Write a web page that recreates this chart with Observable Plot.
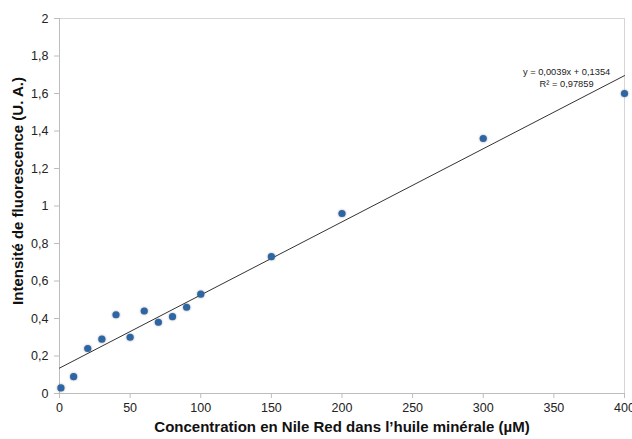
<!DOCTYPE html>
<html><head><meta charset="utf-8">
<script src="https://cdn.jsdelivr.net/npm/d3@7"></script>
<script src="https://cdn.jsdelivr.net/npm/@observablehq/plot@0.6"></script>
<style>
body{margin:0;background:#fff;font-family:"Liberation Sans",Arial,sans-serif}
svg{overflow:visible}
.pts circle{filter:drop-shadow(0.6px 0.8px 0.8px rgba(0,0,0,0.35))}
</style>
</head><body><div id="chart"></div>
<script>
const concentrations = [1, 10, 20, 30, 40, 50, 60, 70, 80, 90, 100, 150, 200, 300, 400];
const intensities = [0.03, 0.09, 0.24, 0.29, 0.42, 0.30, 0.44, 0.38, 0.41, 0.46, 0.53, 0.73, 0.96, 1.36, 1.60];
const xTicks = [0, 50, 100, 150, 200, 250, 300, 350, 400];
const yTicks = [0, 0.2, 0.4, 0.6, 0.8, 1, 1.2, 1.4, 1.6, 1.8, 2];
const slope = 0.0039, intercept = 0.1354;
const trendX = [0, 400];
const equationLines = ["y = 0,0039x + 0,1354", "R² = 0,97859"];
const equationPos = {x: 359, y: [1.716, 1.648]};
const xTitle = "Concentration en Nile Red dans l\u2019huile minérale (\u00b5M)";
const yTitle = "Intensité de fluorescence (U. A.)";

const points = concentrations.map((c, i) => ({c, v: intensities[i]}));
const trend = trendX.map(x => ({x, y: slope * x + intercept}));
const eq = equationLines.map((t, i) => ({t, x: equationPos.x, y: equationPos.y[i]}));
const fmt = d => String(d).replace(".", ",");

const chart = Plot.plot({
  width: 632, height: 439,
  marginLeft: 59, marginRight: 8, marginTop: 18, marginBottom: 46,
  style: {fontFamily: '"Liberation Sans", Arial, sans-serif', fontSize: "12.5px", color: "#222", background: "#fff"},
  x: {domain: [0, 400]},
  y: {domain: [0, 2]},
  marks: [
    Plot.frame({stroke: "#d6d6d6"}),
    Plot.axisX({ticks: xTicks, tickFormat: fmt, tickSize: 5, tickPadding: 5, stroke: "#bdbdbd", fill: "#222", fontSize: 12.5, label: null}),
    Plot.axisY({ticks: yTicks, tickFormat: fmt, tickSize: 5, tickPadding: 6, stroke: "#bdbdbd", fill: "#222", fontSize: 12.5, label: null}),
    Plot.ruleX([0], {stroke: "#bdbdbd"}),
    Plot.ruleY([0], {stroke: "#bdbdbd"}),
    Plot.line(trend, {x: "x", y: "y", stroke: "#333", strokeWidth: 1}),
    Plot.dot(points, {x: "c", y: "v", r: 3.6, fill: "#2e65a3", stroke: "none", className: "pts"}),
    Plot.text(eq, {x: "x", y: "y", text: "t", fontSize: 9.3, fill: "#222", textAnchor: "middle"}),
    Plot.text([xTitle], {frameAnchor: "bottom", dy: 38, fontSize: 15, fontWeight: "bold", fill: "#111"}),
    Plot.text([yTitle], {frameAnchor: "left", dx: -41, dy: -15, rotate: -90, textAnchor: "middle", fontSize: 15, fontWeight: "bold", fill: "#111"})
  ]
});
document.getElementById("chart").append(chart);
</script>
</body></html>
